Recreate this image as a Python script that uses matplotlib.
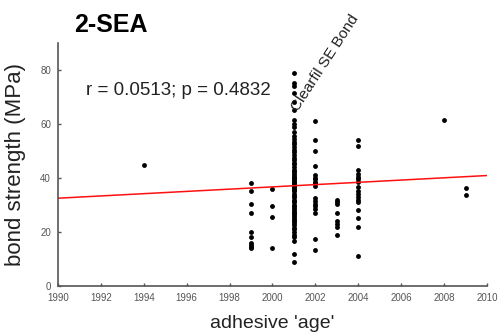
import matplotlib
matplotlib.use("Agg")
import matplotlib.pyplot as plt

plt.rcParams["font.family"] = ["Liberation Sans", "DejaVu Sans"]

# adhesive year -> bond strength values (MPa)
years = [1994, 1999, 2000, 2001, 2002, 2003, 2004, 2008, 2009]
strengths = {
    1994: [44.8],
    1999: [38, 35, 30.5, 27, 20, 18, 16, 15, 14.5, 14],
    2000: [35.8, 29.6, 25.7, 14],
    2001: [79, 75, 74, 71.5, 68, 65, 61.5, 60, 59, 57, 55.5, 54.5, 53.5, 52.5,
           51.5, 50.5, 49.5, 48.5, 47.5, 46.5, 45.5, 45, 44, 43, 42.5, 42, 41,
           40.5, 40, 39.5, 39, 38.5, 38, 37.5, 37, 36.5, 36, 35.5, 35, 34, 33.5,
           33, 32, 31.5, 31, 30, 29.5, 29, 28, 27.5, 27, 26.5, 26, 25, 24.5, 24,
           23.5, 22.5, 21.5, 21, 20, 19, 18, 16.5, 12, 9],
    2002: [61, 54, 50, 44.5, 41, 40, 39.5, 38.5, 38, 37, 32.5, 31.5, 30.5, 29.5,
           28.5, 27, 17.5, 13.3],
    2003: [32, 31, 30.3, 27, 24, 23, 22, 19],
    2004: [54, 52, 43, 41.5, 40.5, 39.5, 38.5, 36.5, 35, 34, 33, 32, 31, 28, 25,
           22, 11],
    2008: [61.5],
    2009: [36.2, 33.7],
}

# regression line end points
fit_x = [1990, 2010]
fit_y = [32.5, 40.9]

xticks = list(range(1990, 2011, 2))
yticks = [0, 20, 40, 60, 80]

fig = plt.figure(figsize=(4.99, 3.36), dpi=100)
ax = fig.add_axes([0.116, 0.149, 0.860, 0.723])

for yr in years:
    vals = strengths[yr]
    ax.plot([yr] * len(vals), vals, "o", color="black", ms=3.5, mew=0)

ax.plot(fit_x, fit_y, color="#ff1010", lw=1.1)

ax.set_xlim(1990, 2010)
ax.set_ylim(0, 90)
ax.set_xticks(xticks)
ax.set_yticks(yticks)
ax.tick_params(direction="in", length=2.5, width=1, colors="#555555",
               labelsize=7, pad=5)
for side in ["top", "right"]:
    ax.spines[side].set_visible(False)
for side in ["left", "bottom"]:
    ax.spines[side].set_color("#555555")
    ax.spines[side].set_linewidth(1.2)

ax.set_xlabel("adhesive 'age'", fontsize=14, color="#222222", labelpad=9)
ax.set_ylabel("bond strength (MPa)", fontsize=16, color="#222222", labelpad=10)

fig.text(0.222, 0.925, "2-SEA", fontsize=18, fontweight="bold", ha="center", va="center")
ax.text(1991.3, 72.5, "r = 0.0513; p = 0.4832", fontsize=13.5, ha="left", va="center",
        color="#222222")
ax.text(2001.2, 64.5, "Clearfil SE Bond", fontsize=11, rotation=57,
        rotation_mode="anchor", ha="left", va="baseline", color="#222222")

fig.savefig("out.png", dpi=100)
